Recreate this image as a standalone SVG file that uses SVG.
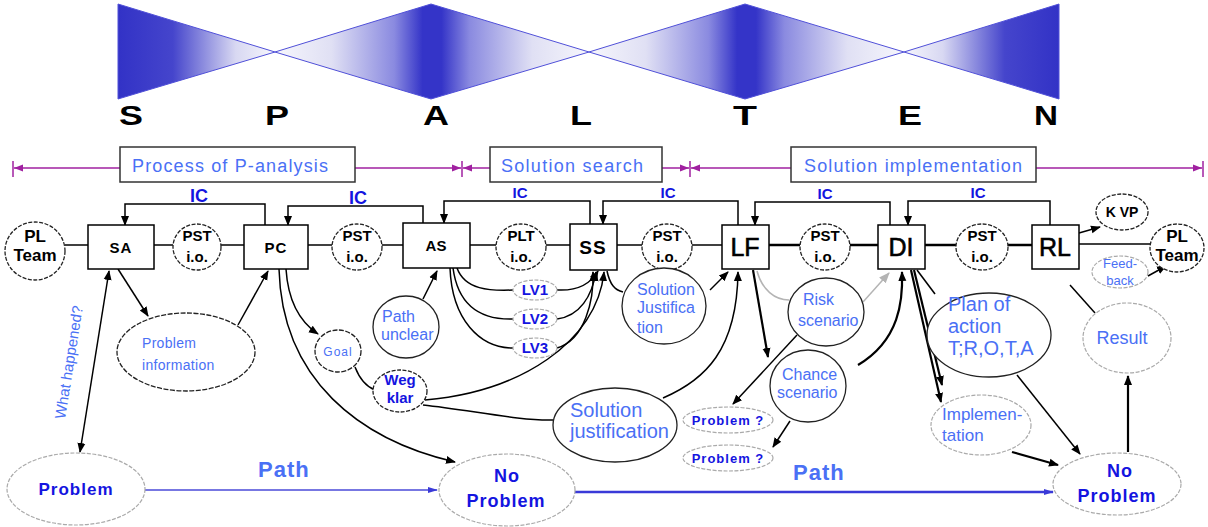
<svg xmlns="http://www.w3.org/2000/svg" width="1208" height="527" viewBox="0 0 1208 527">
<style>
text{font-family:"Liberation Sans",Arial,sans-serif}
.lt{fill:#4a70f5}
.bb{fill:#1414e0;font-weight:bold}
.bk{fill:#000;font-weight:bold}
.box{fill:#fff;stroke:#000;stroke-width:1.5}
.cir{fill:#fff;stroke:#222;stroke-width:1.3;stroke-dasharray:4 1.5}
.ell{fill:#fff;stroke:#222;stroke-width:1.3}
.lg{fill:#fff;stroke:#aaa;stroke-width:1.2;stroke-dasharray:4 1.5}
.ln{fill:none;stroke:#000;stroke-width:1.5}
.th{fill:none;stroke:#000;stroke-width:2.5}
.gy{fill:none;stroke:#b4b4b4;stroke-width:1.5}
.pu{fill:none;stroke:#a020a0;stroke-width:1.5}
.pbox{fill:#fff;stroke:#333;stroke-width:1.5}
.ban{stroke:#5050d8;stroke-width:1}
</style>
<defs>
<marker id="ah" viewBox="0 0 10 10" refX="9" refY="5" markerWidth="10" markerHeight="10" markerUnits="userSpaceOnUse" orient="auto-start-reverse"><path d="M0,1 L10,5 L0,9 z" fill="#000"/></marker>
<marker id="ag" viewBox="0 0 10 10" refX="9" refY="5" markerWidth="11" markerHeight="11" markerUnits="userSpaceOnUse" orient="auto-start-reverse"><path d="M0,1 L10,5 L0,9 z" fill="#b4b4b4"/></marker>
<marker id="ab" viewBox="0 0 10 10" refX="9" refY="5" markerWidth="14" markerHeight="10" markerUnits="userSpaceOnUse" orient="auto-start-reverse"><path d="M0,2 L10,5 L0,8 z" fill="#3a3ad8"/></marker>
<marker id="ap" viewBox="0 0 10 10" refX="10" refY="5" markerWidth="12" markerHeight="9" markerUnits="userSpaceOnUse" orient="auto-start-reverse"><path d="M0,1 L10,5 L0,9 z" fill="#a020a0"/></marker>
<linearGradient id="gl" x1="0" y1="0" x2="1" y2="0">
<stop offset="0" stop-color="#3232c6"/><stop offset="0.35" stop-color="#4545cc"/><stop offset="0.75" stop-color="#d8d8f2"/><stop offset="1" stop-color="#f6f6fc"/>
</linearGradient>
<linearGradient id="gr" x1="1" y1="0" x2="0" y2="0">
<stop offset="0" stop-color="#3232c6"/><stop offset="0.35" stop-color="#4545cc"/><stop offset="0.75" stop-color="#d8d8f2"/><stop offset="1" stop-color="#f6f6fc"/>
</linearGradient>
<linearGradient id="gd" x1="0" y1="0" x2="1" y2="0">
<stop offset="0" stop-color="#f6f6fc"/><stop offset="0.18" stop-color="#e0e0f4"/><stop offset="0.38" stop-color="#8a8ae0"/><stop offset="0.47" stop-color="#3434c8"/><stop offset="0.53" stop-color="#3434c8"/><stop offset="0.62" stop-color="#8a8ae0"/><stop offset="0.82" stop-color="#e0e0f4"/><stop offset="1" stop-color="#f6f6fc"/>
</linearGradient>
</defs>
<rect width="1208" height="527" fill="#fff"/>

<g id="banner">
<polygon class="ban" fill="url(#gl)" points="118,4 118,99 275,52"/>
<polygon class="ban" fill="url(#gd)" points="275,52 431,4 589,52 431,99"/>
<polygon class="ban" fill="url(#gd)" points="589,52 745,4 904,52 745,99"/>
<polygon class="ban" fill="url(#gr)" points="904,52 1059,4 1059,99"/>
<g class="bk" font-size="28" text-anchor="middle">
<text x="131" y="125" textLength="24" lengthAdjust="spacingAndGlyphs">S</text>
<text x="277" y="125" textLength="24" lengthAdjust="spacingAndGlyphs">P</text>
<text x="436" y="125" textLength="26" lengthAdjust="spacingAndGlyphs">A</text>
<text x="581" y="125" textLength="22" lengthAdjust="spacingAndGlyphs">L</text>
<text x="745" y="125" textLength="24" lengthAdjust="spacingAndGlyphs">T</text>
<text x="910" y="125" textLength="24" lengthAdjust="spacingAndGlyphs">E</text>
<text x="1046" y="125" textLength="24" lengthAdjust="spacingAndGlyphs">N</text>
</g>
</g>

<g id="phases">
<line class="pu" x1="13" y1="161" x2="13" y2="177"/>
<line class="pu" x1="462" y1="161" x2="462" y2="177"/>
<line class="pu" x1="690" y1="161" x2="690" y2="177"/>
<line class="pu" x1="1203" y1="161" x2="1203" y2="177"/>
<line class="pu" x1="14" y1="168" x2="120" y2="168" marker-start="url(#ap)"/>
<line class="pu" x1="355" y1="168" x2="461" y2="168" marker-end="url(#ap)"/>
<line class="pu" x1="463" y1="168" x2="490" y2="168" marker-start="url(#ap)"/>
<line class="pu" x1="662" y1="168" x2="689" y2="168" marker-end="url(#ap)" stroke-width="2.5"/>
<line class="pu" x1="691" y1="168" x2="791" y2="168" marker-start="url(#ap)"/>
<line class="pu" x1="1036" y1="168" x2="1202" y2="168" marker-end="url(#ap)"/>
<g id="ph1"><rect class="pbox" x="120" y="147" width="235" height="35"/><text class="lt" x="132" y="172" font-size="18" textLength="196" lengthAdjust="spacing">Process of P-analysis</text></g>
<g id="ph2"><rect class="pbox" x="490" y="147" width="172" height="35"/><text class="lt" x="501" y="172" font-size="18" textLength="142" lengthAdjust="spacing">Solution search</text></g>
<g id="ph3"><rect class="pbox" x="791" y="147" width="245" height="35"/><text class="lt" x="804" y="172" font-size="18" textLength="218" lengthAdjust="spacing">Solution implementation</text></g>
</g>

<g id="connectors">
<!-- main row -->
<g class="ln">
<line x1="65" y1="245" x2="88" y2="245"/>
<line x1="154" y1="245" x2="173" y2="245"/>
<line x1="221" y1="245" x2="244" y2="245"/>
<line x1="308" y1="245" x2="332" y2="245"/>
<line x1="382" y1="245" x2="403" y2="245"/>
<line x1="470" y1="245" x2="496" y2="245"/>
<line x1="546" y1="245" x2="570" y2="245"/>
<line x1="617" y1="245" x2="642" y2="245"/>
<line x1="692" y1="245" x2="722" y2="245"/>
<line x1="1079" y1="244" x2="1150" y2="244"/>
</g>
<g class="th">
<line x1="769" y1="245" x2="800" y2="245"/>
<line x1="850" y1="245" x2="878" y2="245"/>
<line x1="925" y1="245" x2="956" y2="245"/>
<line x1="1008" y1="245" x2="1032" y2="245"/>
</g>
<!-- IC loops -->
<g class="ln" stroke-width="2" marker-end="url(#ah)">
<path d="M265,225 V204 H125 V225"/>
<path d="M423,223 V206 H288 V225"/>
<path d="M590,224 V201 H444 V223"/>
<path d="M738,225 V201 H603 V224"/>
<path d="M890,225 V202 H755 V225"/>
<path d="M1050,225 V201 H908 V225"/>
</g>
<!-- lower connectors -->
<g class="ln" marker-end="url(#ah)">
<path d="M109,271 L80,452" marker-start="url(#ah)"/>
<path d="M118,269 L148,316"/>
<path d="M238,325 L268,271"/>
<path d="M286,269 C288,300 300,322 318,334"/>
<path d="M279,269 C282,380 360,440 455,462"/>
<path d="M423,299 L437,271"/>
<path d="M557,290 C575,291 590,285 598,271"/>
<path d="M557,319 C580,316 592,296 596,272"/>
<path d="M557,348 C585,340 594,300 593,272"/>
<path d="M425,400 C520,392 597,342 604,272"/>
<path d="M710,290 L728,272"/>
<path d="M663,398 C705,380 737,350 738,272"/>
<path d="M797,335 L733,404"/>
<path d="M790,421 L773,447"/>
<path d="M1017,375 L1080,454"/>
<path d="M1079,233 L1100,227"/>
<path d="M1148,276 L1166,266"/>
</g>
<g class="ln">
<path d="M355,367 Q362,385 375,390"/>
<path d="M457,268 C465,290 490,291 513,290"/>
<path d="M453,268 C458,305 480,320 513,319"/>
<path d="M450,268 C452,320 480,348 513,348"/>
<path d="M423,405 C470,410 520,421 553,420"/>
<path d="M607,271 C610,285 615,290 623,292"/>
<path d="M917,270 L935,294"/>
<path d="M1095,313 L1070,285"/>
</g>
<g fill="none" stroke="#000" stroke-width="2.2" marker-end="url(#ah)">
<path d="M753,270 L768,357"/>
<path d="M858,365 C900,340 903,300 902,272"/>
<path d="M911,270 L941,402"/>
<path d="M914,270 L942,385"/>
<path d="M1012,452 L1058,465"/>
<path d="M1128,452 L1128,376"/>
</g>
<path class="gy" d="M757,271 C762,290 775,300 789,300"/>
<path class="gy" d="M863,302 L889,273" marker-end="url(#ag)"/>
<!-- path lines -->
<path d="M145,490 L437,490" fill="none" stroke="#4a4ad8" stroke-width="1.5" marker-end="url(#ab)"/>
<path d="M575,492 L1053,492" fill="none" stroke="#3a3ad8" stroke-width="2.5" marker-end="url(#ab)"/>
<text class="lt" x="258" y="477" font-size="22" font-weight="bold" letter-spacing="1">Path</text>
<text class="lt" x="793" y="480" font-size="22" font-weight="bold" letter-spacing="1">Path</text>
<text class="lt" font-size="15" text-anchor="middle" transform="translate(74,363) rotate(-81)">What happened?</text>
</g>

<!-- main row nodes -->
<g id="plteam1"><ellipse class="cir" cx="35" cy="251" rx="30" ry="29"/><text class="bk" x="35" y="242" font-size="17" text-anchor="middle">PL</text><text class="bk" x="35" y="261" font-size="17" text-anchor="middle">Team</text></g>
<g id="sa"><rect class="box" x="88" y="225" width="66" height="44"/><text class="bk" x="121" y="253" font-size="15" text-anchor="middle" letter-spacing="1">SA</text></g>
<g id="pst1"><ellipse class="cir" cx="197" cy="247" rx="24" ry="23"/><text class="bk" x="197" y="241" font-size="15" text-anchor="middle">PST</text><text class="bk" x="197" y="262" font-size="15" text-anchor="middle">i.o.</text></g>
<g id="pc"><rect class="box" x="244" y="225" width="64" height="44"/><text class="bk" x="276" y="253" font-size="15" text-anchor="middle" letter-spacing="1">PC</text></g>
<g id="pst2"><ellipse class="cir" cx="357" cy="247" rx="25" ry="23"/><text class="bk" x="357" y="241" font-size="15" text-anchor="middle">PST</text><text class="bk" x="357" y="262" font-size="15" text-anchor="middle">i.o.</text></g>
<g id="as"><rect class="box" x="403" y="223" width="67" height="45"/><text class="bk" x="436" y="251" font-size="15" text-anchor="middle">AS</text></g>
<g id="plt"><ellipse class="cir" cx="521" cy="247" rx="25" ry="23"/><text class="bk" x="521" y="241" font-size="15" text-anchor="middle">PLT</text><text class="bk" x="521" y="262" font-size="15" text-anchor="middle">i.o.</text></g>
<g id="ss"><rect class="box" x="570" y="224" width="47" height="46"/><text class="bk" x="593" y="254" font-size="19" text-anchor="middle" letter-spacing="1">SS</text></g>
<g id="pst3"><ellipse class="cir" cx="667" cy="247" rx="25" ry="23"/><text class="bk" x="667" y="241" font-size="15" text-anchor="middle">PST</text><text class="bk" x="667" y="262" font-size="15" text-anchor="middle">i.o.</text></g>
<g id="lf"><rect class="box" x="722" y="225" width="47" height="44"/><text x="745" y="256" font-size="25" text-anchor="middle" fill="#000" stroke="#000" stroke-width="0.6">LF</text></g>
<g id="pst4"><ellipse class="cir" cx="825" cy="247" rx="25" ry="23"/><text class="bk" x="825" y="241" font-size="15" text-anchor="middle">PST</text><text class="bk" x="825" y="262" font-size="15" text-anchor="middle">i.o.</text></g>
<g id="di"><rect class="box" x="878" y="225" width="47" height="44"/><text x="901" y="256" font-size="25" text-anchor="middle" fill="#000" stroke="#000" stroke-width="0.6">DI</text></g>
<g id="pst5"><ellipse class="cir" cx="982" cy="247" rx="26" ry="23"/><text class="bk" x="982" y="241" font-size="15" text-anchor="middle">PST</text><text class="bk" x="982" y="262" font-size="15" text-anchor="middle">i.o.</text></g>
<g id="rl"><rect class="box" x="1032" y="225" width="47" height="44"/><text x="1055" y="256" font-size="25" text-anchor="middle" fill="#000" stroke="#000" stroke-width="0.6">RL</text></g>
<g id="kvp"><ellipse class="cir" cx="1122" cy="212" rx="26" ry="18"/><text class="bk" x="1122" y="217" font-size="14" text-anchor="middle">K VP</text></g>
<g id="plteam2"><ellipse class="cir" cx="1177" cy="248" rx="27" ry="24"/><text class="bk" x="1177" y="242" font-size="17" text-anchor="middle">PL</text><text class="bk" x="1177" y="261" font-size="17" text-anchor="middle">Team</text></g>
<g id="feedback"><ellipse class="lg" cx="1120" cy="272" rx="28" ry="16"/><text class="lt" x="1120" y="268" font-size="13" text-anchor="middle">Feed-</text><text class="lt" x="1120" y="285" font-size="13" text-anchor="middle">back</text></g>

<!-- IC labels -->
<g id="ic-labels" class="bb" text-anchor="middle">
<text x="199" y="202" font-size="18">IC</text>
<text x="358" y="204" font-size="18">IC</text>
<text x="520" y="198" font-size="15">IC</text>
<text x="668" y="198" font-size="15">IC</text>
<text x="825" y="199" font-size="15">IC</text>
<text x="978" y="198" font-size="15">IC</text>
</g>

<!-- lower nodes -->
<g id="probinfo"><ellipse class="ell" cx="186" cy="352" rx="69" ry="39" stroke-dasharray="5 1.5"/><text class="lt" x="142" y="348" font-size="14" letter-spacing="0.3">Problem</text><text class="lt" x="142" y="370" font-size="14" letter-spacing="0.3">information</text></g>
<g id="goal"><ellipse class="ell" cx="338" cy="351" rx="23" ry="21" stroke-dasharray="5 1.5"/><text class="lt" x="338" y="356" font-size="12" text-anchor="middle" letter-spacing="1">Goal</text></g>
<g id="pathunclear"><ellipse class="ell" cx="406" cy="327" rx="33" ry="31"/><text class="lt" x="382" y="322" font-size="16">Path</text><text class="lt" x="381" y="340" font-size="16">unclear</text></g>
<g id="wegklar"><ellipse class="ell" cx="400" cy="391" rx="27" ry="21" fill="#f2f2f2" stroke-dasharray="4 1.5"/><text class="bb" x="400" y="385" font-size="15" text-anchor="middle">Weg</text><text class="bb" x="400" y="403" font-size="15" text-anchor="middle">klar</text></g>
<g id="lv1"><ellipse class="lg" cx="535" cy="290" rx="22" ry="10"/><text class="bb" x="535" y="295" font-size="15" text-anchor="middle">LV1</text></g>
<g id="lv2"><ellipse class="lg" cx="535" cy="319" rx="22" ry="10"/><text class="bb" x="535" y="324" font-size="15" text-anchor="middle">LV2</text></g>
<g id="lv3"><ellipse class="lg" cx="535" cy="348" rx="22" ry="10"/><text class="bb" x="535" y="353" font-size="15" text-anchor="middle">LV3</text></g>
<g id="soljust1"><ellipse class="ell" cx="664" cy="306" rx="42" ry="38"/><text class="lt" x="637" y="295" font-size="16">Solution</text><text class="lt" x="637" y="313" font-size="16">Justifica</text><text class="lt" x="637" y="333" font-size="16">tion</text></g>
<g id="soljust2"><ellipse class="ell" cx="615" cy="425" rx="62" ry="37"/><text class="lt" x="570" y="417" font-size="20">Solution</text><text class="lt" x="570" y="438" font-size="20">justification</text></g>
<g id="risk"><ellipse class="ell" cx="826" cy="312" rx="38" ry="34"/><text class="lt" x="803" y="305" font-size="16">Risk</text><text class="lt" x="798" y="326" font-size="16">scenario</text></g>
<g id="chance"><ellipse class="ell" cx="808" cy="386" rx="38" ry="36"/><text class="lt" x="782" y="380" font-size="16">Chance</text><text class="lt" x="777" y="398" font-size="16">scenario</text></g>
<g id="probq1"><ellipse class="lg" cx="728" cy="420" rx="45" ry="13"/><text class="bb" x="728" y="425" font-size="13" text-anchor="middle" letter-spacing="1">Problem ?</text></g>
<g id="probq2"><ellipse class="lg" cx="728" cy="458" rx="45" ry="13"/><text class="bb" x="728" y="463" font-size="13" text-anchor="middle" letter-spacing="1">Problem ?</text></g>
<g id="plan"><ellipse class="ell" cx="989" cy="335" rx="62" ry="42"/><text class="lt" x="948" y="311" font-size="20">Plan of</text><text class="lt" x="948" y="333" font-size="20">action</text><text class="lt" x="948" y="355" font-size="20">T;R,O,T,A</text></g>
<g id="impl"><ellipse class="lg" cx="981" cy="425" rx="50" ry="30"/><text class="lt" x="942" y="420" font-size="17" fill="#2a4ef0">Implemen-</text><text class="lt" x="942" y="441" font-size="17">tation</text></g>
<g id="result"><ellipse class="lg" cx="1127" cy="338" rx="44" ry="35"/><text class="lt" x="1122" y="344" font-size="18" text-anchor="middle">Result</text></g>
<g id="problem"><ellipse class="lg" cx="76" cy="489" rx="69" ry="36"/><text class="bb" x="76" y="495" font-size="17" text-anchor="middle" letter-spacing="1">Problem</text></g>
<g id="noproblem1"><ellipse class="lg" cx="507" cy="490" rx="68" ry="36"/><text class="bb" x="507" y="482" font-size="18" text-anchor="middle" letter-spacing="1">No</text><text class="bb" x="506" y="507" font-size="18" text-anchor="middle" letter-spacing="1">Problem</text></g>
<g id="noproblem2"><ellipse class="lg" cx="1117" cy="484" rx="64" ry="31"/><text class="bb" x="1120" y="477" font-size="18" text-anchor="middle" letter-spacing="1">No</text><text class="bb" x="1117" y="502" font-size="18" text-anchor="middle" letter-spacing="1">Problem</text></g>
</svg>
